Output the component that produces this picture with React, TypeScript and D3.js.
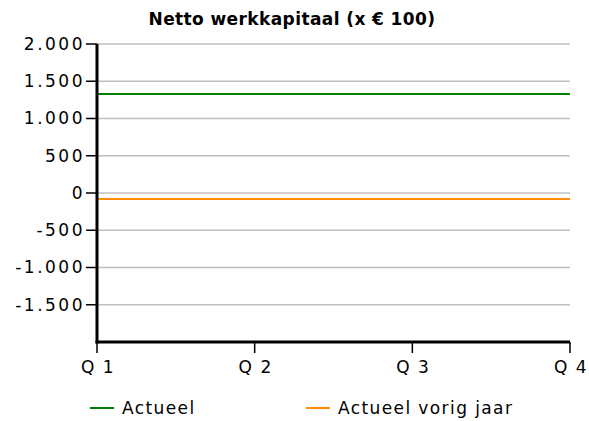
import * as d3 from "d3";

const quarters = ["Q 1", "Q 2", "Q 3", "Q 4"];
const yTicks = [2000, 1500, 1000, 500, 0, -500, -1000, -1500];
const actueel = [1330, 1330, 1330, 1330];
const vorigJaar = [-80, -80, -80, -80];

const series = [
  { name: "Actueel", values: actueel, color: "#008000", lx: 90 },
  { name: "Actueel vorig jaar", values: vorigJaar, color: "#ff8c00", lx: 306 },
];

// dutch style thousands: 2.000, -1.500
const fmt = (v: number) => d3.format(",")(v).replace(/,/g, ".").replace("\u2212", "-");

export default function App() {
  const width = 589, height = 421;
  const left = 97, right = 570, top = 44, bottom = 342;
  const font = "DejaVu Sans, Verdana, sans-serif";

  const x = d3.scalePoint<string>().domain(quarters).range([left, right]);
  const y = d3.scaleLinear().domain([-2000, 2000]).range([bottom, top]);
  const line = d3
    .line<number>()
    .x((_, i) => x(quarters[i]) as number)
    .y((d) => y(d));

  return (
    <svg
      width={width}
      height={height}
      style={{ position: "absolute", left: 0, top: 0 }}
      fontFamily={font}
    >
      <rect width={width} height={height} fill="#fff" />
      <text x={292} y={25} textAnchor="middle" fontWeight="bold" fontSize={17} letterSpacing={0.4}>
        Netto werkkapitaal (x € 100)
      </text>

      {yTicks.map((t) => (
        <g key={t}>
          <line x1={left} x2={right} y1={y(t)} y2={y(t)} stroke="#c0c0c0" strokeWidth={1.5} />
          <line x1={left - 11} x2={left} y1={y(t)} y2={y(t)} stroke="#000" strokeWidth={1.5} />
          <text
            x={left - 12}
            y={y(t)}
            dy="0.35em"
            textAnchor="end"
            fontSize={17}
            letterSpacing={2.5}
          >
            {fmt(t)}
          </text>
        </g>
      ))}

      {series.map((s) => (
        <path key={s.name} d={line(s.values) ?? ""} fill="none" stroke={s.color} strokeWidth={2} />
      ))}

      <line x1={left} x2={left} y1={top} y2={bottom + 1.5} stroke="#000" strokeWidth={3} />
      <line x1={left - 1.5} x2={right} y1={bottom} y2={bottom} stroke="#000" strokeWidth={3} />

      {quarters.map((q) => (
        <g key={q}>
          <line x1={x(q)} x2={x(q)} y1={bottom} y2={bottom + 11} stroke="#000" strokeWidth={1.5} />
          <text x={(x(q) as number) + 1} y={373} textAnchor="middle" fontSize={17} letterSpacing={1.5}>
            {q}
          </text>
        </g>
      ))}

      {series.map((s) => (
        <g key={s.name + "-legend"}>
          <line x1={s.lx} x2={s.lx + 24} y1={408} y2={408} stroke={s.color} strokeWidth={2} />
          <text x={s.lx + 32} y={414} fontSize={17} letterSpacing={1.4}>
            {s.name}
          </text>
        </g>
      ))}
    </svg>
  );
}
